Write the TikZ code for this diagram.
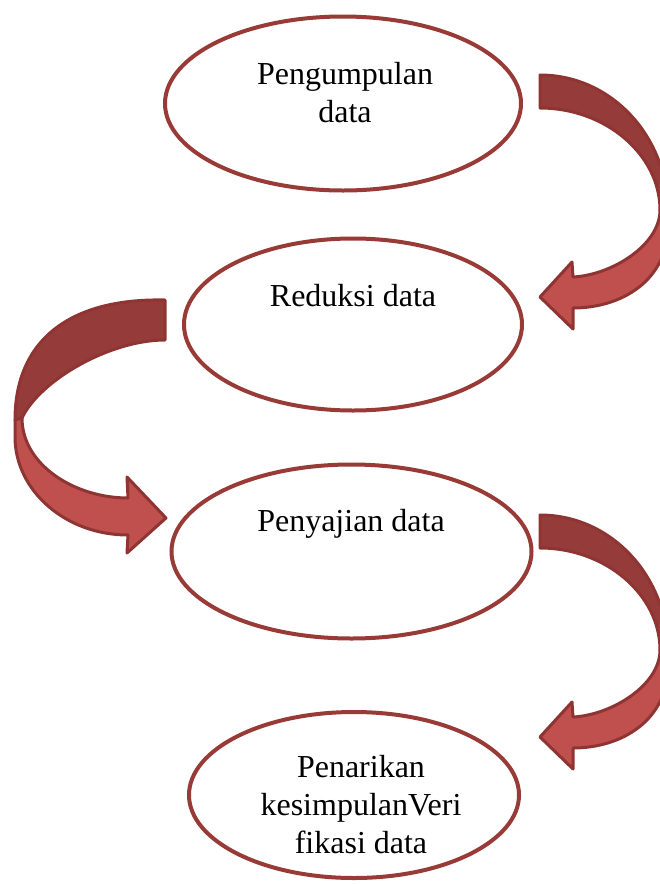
\documentclass[tikz,border=0pt]{standalone}
\usepackage{fontspec}
\setmainfont{Liberation Serif}
\usetikzlibrary{shapes.geometric}
\definecolor{rimred}{HTML}{983A36}
\definecolor{backred}{HTML}{953C3A}
\definecolor{frontred}{HTML}{C0504D}
\definecolor{edgered}{HTML}{8E3533}
\begin{document}
\begin{tikzpicture}[x=1pt,y=-1pt,
  oval/.style={ellipse,draw=rimred,line width=4pt,fill=white,inner sep=0pt},
  label/.style={font=\fontsize{32}{38}\selectfont,align=center,anchor=base,inner sep=0pt},
  backpart/.style={fill=backred,draw=edgered,line width=3pt,line join=round},
  frontpart/.style={fill=frontred,draw=edgered,line width=3pt,line join=round}]
\useasboundingbox (0,0) rectangle (660,884);
\clip (0,0) rectangle (660,884);
% ellipses
\node[oval,minimum width=356pt,minimum height=174pt] (e1) at (343,103.5) {};
\node[oval,minimum width=338pt,minimum height=172pt] (e2) at (353,324.5) {};
\node[oval,minimum width=360pt,minimum height=174pt] (e3) at (351.5,551.5) {};
\node[oval,minimum width=330pt,minimum height=166pt] (e4) at (354,795) {};
% texts (base anchor = baseline of the last line)
\node[label] (t1) at (345,122) {Pengumpulan\\data};
\node[label] (t2) at (353,306) {Reduksi data};
\node[label] (t3) at (351,531) {Penyajian data};
\node[label] (t4) at (361,853) {Penarikan\\kesimpulanVeri\\fikasi data};
% right arrows
\foreach \dy in {0,440}{
\begin{scope}[yshift=-\dy pt]
\path[backpart] (540,75) .. controls (611,75) and (668,136) .. (668,212)
  -- (660,210) .. controls (660,155) and (606,108) .. (540,108) -- cycle;
\path[frontpart] (660,210) .. controls (660,245) and (612,275) .. (573,277)
  -- (572,262) -- (540,297) -- (573,329) -- (573,308)
  .. controls (622,308) and (668,280) .. (668,226) -- (668,212) -- cycle;
\end{scope}}
% left arrow
\path[backpart] (165,300) .. controls (70,298) and (15,340) .. (15,420)
  -- (22,418) .. controls (40,380) and (110,340) .. (165,340) -- cycle;
\path[frontpart] (22,418) .. controls (22,465) and (75,498) .. (128,498)
  -- (127,477) -- (166,518) -- (127,553) -- (128,535)
  .. controls (65,535) and (15,490) .. (15,437) -- (15,420) -- cycle;
\end{tikzpicture}
\end{document}
